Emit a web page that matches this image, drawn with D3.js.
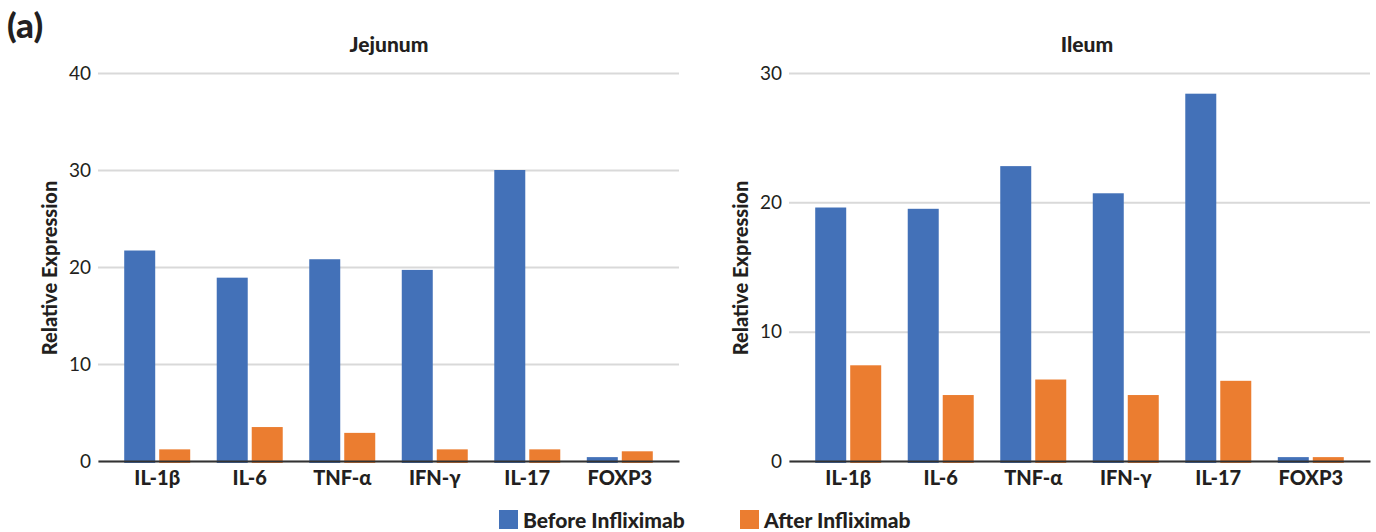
<!DOCTYPE html>
<html><head><meta charset="utf-8">
<script src="https://cdn.jsdelivr.net/npm/d3@7"></script>
<style>body{margin:0;background:#fff}svg{display:block}text{font-family:Lato,"Open Sans",sans-serif;fill:#231f20}</style>
</head><body>
<svg id="c" width="1376" height="532"></svg>
<script>
const categories = ["IL-1β","IL-6","TNF-α","IFN-γ","IL-17","FOXP3"];
const seriesNames = ["Before Infliximab","After Infliximab"];
const jejunumBefore = [21.7, 18.9, 20.8, 19.7, 30.0, 0.4];
const jejunumAfter  = [1.2, 3.5, 2.9, 1.2, 1.2, 1.0];
const ileumBefore   = [19.6, 19.5, 22.8, 20.7, 28.4, 0.3];
const ileumAfter    = [7.4, 5.1, 6.3, 5.1, 6.2, 0.3];
const jejunumTicks = [0,10,20,30,40];
const ileumTicks   = [0,10,20,30];
const colors = ["#4371B8","#EB7D30"];

const svg = d3.select("#c");
svg.append("text").attr("x",7).attr("y",38).style("font-size","35px").style("font-weight","900").text("(a)");

function panel(title, x0, before, after, ticks, yMax, titleX, yTitleX){
  const W = 581, yTop = 73, yBot = 461;
  const g = svg.append("g");
  const x = d3.scaleBand().domain(categories).range([x0, x0+W]).paddingInner(0).paddingOuter(0.14);
  const xs = d3.scaleBand().domain(seriesNames).range([0, x.bandwidth()]).paddingInner(4/35).paddingOuter(0.379);
  const y = d3.scaleLinear().domain([0,yMax]).range([yBot,yTop]);
  const grid = d3.axisLeft(y).tickValues(ticks).tickSize(-W).tickFormat("");
  const gg = g.append("g").attr("transform",`translate(${x0},0)`).call(grid);
  gg.select(".domain").remove();
  gg.selectAll("line").attr("stroke","#d9d9d9").attr("stroke-width",2);
  const ya = d3.axisLeft(y).tickValues(ticks).tickSize(0).tickPadding(7);
  const yg = g.append("g").attr("transform",`translate(${x0},0)`).call(ya);
  yg.select(".domain").remove();
  yg.selectAll("text").style("font-size","19px").style("font-family","Lato,sans-serif").attr("fill","#231f20");
  const data = categories.map((c,i)=>({c, vals:[before[i], after[i]]}));
  const grp = g.selectAll(".grp").data(data).enter().append("g").attr("transform",d=>`translate(${x(d.c)},0)`);
  grp.selectAll("rect").data(d=>d.vals.map((v,j)=>({s:seriesNames[j], v, j}))).enter().append("rect")
    .attr("x",d=>xs(d.s)).attr("width",xs.bandwidth())
    .attr("y",d=>y(d.v)).attr("height",d=>y(0)-y(d.v)+2)
    .attr("fill",d=>colors[d.j]);
  const xa = d3.axisBottom(x).tickSize(0).tickPadding(10);
  const xg = g.append("g").attr("transform",`translate(0,${yBot})`).call(xa);
  xg.select(".domain").attr("stroke","#333").attr("stroke-width",2);
  xg.selectAll("text").style("font-size","20px").style("font-weight","900").style("font-family","Lato,sans-serif").attr("fill","#231f20");
  g.append("text").attr("x",titleX).attr("y",52).attr("text-anchor","middle").style("font-size","21px").style("font-weight","900").text(title);
  g.append("text").attr("transform",`translate(${yTitleX},${268}) rotate(-90)`).attr("text-anchor","middle").style("font-size","20px").style("font-weight","900").text("Relative Expression");
}
panel("Jejunum", 98, jejunumBefore, jejunumAfter, jejunumTicks, 40, 389, 57);
panel("Ileum", 789, ileumBefore, ileumAfter, ileumTicks, 30, 1087, 748);

const legX = [499, 740];
const lg = svg.selectAll(".leg").data(seriesNames).enter().append("g").attr("transform",(d,i)=>`translate(${legX[i]},510)`);
lg.append("rect").attr("width",19).attr("height",19).attr("fill",(d,i)=>colors[i]);
lg.append("text").attr("x",24).attr("y",18).style("font-size","21px").style("font-weight","900").text(d=>d);
</script>
</body></html>
